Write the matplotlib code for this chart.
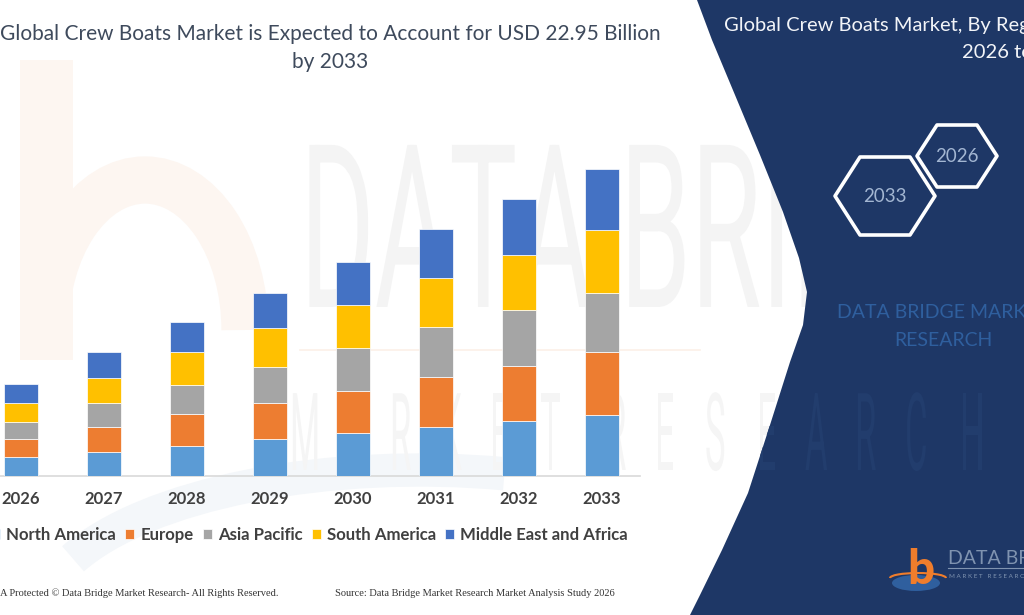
import matplotlib.pyplot as plt
import numpy as np
from matplotlib.patches import Polygon, Rectangle, Ellipse, PathPatch, Arc
from matplotlib.textpath import TextPath
from matplotlib.font_manager import FontProperties
from matplotlib.transforms import Affine2D

# values (USD billion)
years = ['2026', '2027', '2028', '2029', '2030', '2031', '2032', '2033']
north_america = [1.40, 1.82, 2.24, 2.79, 3.19, 3.64, 4.09, 4.59]
europe = [1.39, 1.83, 2.37, 2.69, 3.19, 3.79, 4.16, 4.64]
asia_pacific = [1.27, 1.80, 2.19, 2.69, 3.19, 3.67, 4.17, 4.47]
south_america = [1.42, 1.87, 2.45, 2.87, 3.24, 3.72, 4.09, 4.66]
middle_east_africa = [1.40, 1.92, 2.24, 2.64, 3.22, 3.61, 4.19, 4.59]

regions = ['North America', 'Europe', 'Asia Pacific', 'South America', 'Middle East and Africa']
series = [north_america, europe, asia_pacific, south_america, middle_east_africa]
colors = ['#5b9bd5', '#ed7d31', '#a5a5a5', '#ffc000', '#4472c4']

navy = '#1e3766'
W, H = 1024, 615

fig = plt.figure(figsize=(W / 100, H / 100), dpi=100)

# background layer in pixel coordinates (origin top-left)
bg = fig.add_axes([0, 0, 1, 1])
bg.set_xlim(0, W)
bg.set_ylim(H, 0)
bg.axis('off')
bg.set_zorder(0)

wm_font = FontProperties(family='Roboto', weight='normal')


def wm_text(s, x0, y0, em, sx, color, z, clip=None):
    tp = TextPath((0, 0), s, size=1, prop=wm_font)
    tr = Affine2D().scale(em * sx, -em).translate(x0, y0) + bg.transData
    p = PathPatch(tp, transform=tr, fc=color, ec='none', zorder=z)
    bg.add_patch(p)
    if clip is not None:
        p.set_clip_path(clip)
    return p


# faint watermark logo on the left
bg.add_patch(Rectangle((20, 60), 53, 300, fc='#fdf6f1', ec='none', zorder=1))
bg.add_patch(Arc((145, 330), 200, 300, theta1=180, theta2=360, lw=34,
                 color='#fdf6f1', zorder=1))
bg.add_patch(Arc((420, 620), 760, 300, theta1=190, theta2=300, lw=24,
                 color='#f4f7fa', zorder=1))
bg.plot([300, 700], [350, 350], color='#fcf0e8', lw=1.2, zorder=1)

# faint "DATA BRIDGE" watermark
wm_text('DATA BRIDGE', 300, 307, 228, 0.5, '#f4f4f4', 1)

# spaced "MARKET RESEARCH" letters
wm_letters = 'MARKETRESEARCH'
wm_x = [290, 340, 390, 440, 490, 540, 605, 655, 705, 757, 805, 855, 905, 960]
for ch, xx in zip(wm_letters, wm_x):
    wm_text(ch, xx, 470, 108, 0.32, '#f5f5f5', 1)

# right navy panel with curved left edge
edge = [(697, 0), (712, 40), (735, 95), (760, 155), (783, 212), (799, 258),
        (807, 292), (803, 325), (790, 362), (770, 425), (748, 493),
        (722, 550), (700, 595), (690, 615)]
panel = Polygon(edge + [(W, H), (W, 0)], closed=True, fc=navy, ec='none', zorder=2)
bg.add_patch(panel)

for ch, xx in zip(wm_letters, wm_x):
    wm_text(ch, xx, 470, 108, 0.32, '#223d6d', 3, clip=panel)

# panel title (cut at the right edge as in the picture)
bg.text(724, 25, 'Global Crew Boats Market, By Region,', fontsize=14.5, family='Lato',
        color='#f2f4f8', ha='left', va='center', zorder=5)
bg.text(962, 52, '2026 to 2033', fontsize=14.5, family='Lato',
        color='#f2f4f8', ha='left', va='center', zorder=5)


def hexagon(cx, cy, rx, ry):
    return [(cx + rx, cy), (cx + rx / 2, cy + ry), (cx - rx / 2, cy + ry),
            (cx - rx, cy), (cx - rx / 2, cy - ry), (cx + rx / 2, cy - ry)]


for (cx, cy, rx, ry, lab) in [(885, 196, 50, 39, '2033'), (957, 156, 40, 31, '2026')]:
    bg.add_patch(Polygon(hexagon(cx, cy, rx, ry), closed=True, fill=False,
                         ec='white', lw=2.6, joinstyle='round', zorder=5))
    bg.text(cx, cy, lab, fontsize=13.5, family='Lato', color='#a3b6d2',
            ha='center', va='center', zorder=5)

bg.text(943, 313, 'DATA BRIDGE MARKET', fontsize=14, family='Lato', color='#2f5f9e',
        ha='center', va='center', zorder=5)
bg.text(943, 341, 'RESEARCH', fontsize=14, family='Lato', color='#2f5f9e',
        ha='center', va='center', zorder=5)

# small logo bottom right
bg.add_patch(Ellipse((916, 583), 48, 16, fc='#2f5f9e', ec='none', zorder=5))
bg.text(921, 584, 'b', fontsize=34, family='Lato', weight='black', color='#ef7d2c',
        ha='center', va='baseline', zorder=6)
bg.add_patch(Arc((918, 578), 56, 10, theta1=180, theta2=360, lw=1.5,
                 color='#ef7d2c', zorder=7))
bg.text(948, 559, 'DATA BRIDGE', fontsize=14, family='Lato', color='#7f93b0',
        ha='left', va='center', zorder=5)
bg.plot([948, 1024], [568, 568], color='#7f93b0', lw=0.8, zorder=5)
bg.text(949, 576, 'M A R K E T   R E S E A R C H', fontsize=4.5, family='Lato',
        color='#7f93b0', ha='left', va='center', zorder=5)

# titles and footer
bg.text(330, 34, 'Global Crew Boats Market is Expected to Account for USD 22.95 Billion',
        fontsize=15, family='Lato', color='#3e4a5c', ha='center', va='center', zorder=5)
bg.text(330, 62, 'by 2033', fontsize=15, family='Lato', color='#3e4a5c',
        ha='center', va='center', zorder=5)
bg.text(0, 593, 'A Protected \u00a9 Data Bridge Market Research- All Rights Reserved.',
        fontsize=7.5, family='Liberation Serif', color='#333333', ha='left', va='center')
bg.text(335, 593, 'Source: Data Bridge Market Research Market Analysis Study 2026',
        fontsize=7.5, family='Liberation Serif', color='#333333', ha='left', va='center')

# stacked bar chart
base_px, step = 476, 83.0
ax = fig.add_axes([0, 1 - base_px / H, 640 / W, 376 / H])
ax.set_zorder(1)
ax.patch.set_alpha(0)

x = np.arange(len(years))
bottom = np.zeros(len(years))
for vals, name, c in zip(series, regions, colors):
    ax.bar(x, vals, bottom=bottom, width=34 / step, color=c, label=name,
           edgecolor='white', linewidth=0.5, zorder=3)
    bottom += np.array(vals)

ax.set_xlim(-21 / step, (640 - 21) / step)
ax.set_ylim(0, 28.1)
ax.set_xticks(x)
ax.set_xticklabels(years, fontsize=12, family='Lato', weight='bold', color='#404040')
ax.set_yticks([])
ax.tick_params(axis='x', length=0, pad=11)
for s in ['top', 'left', 'right']:
    ax.spines[s].set_visible(False)
ax.spines['bottom'].set_color('#d9d9d9')
ax.spines['bottom'].set_linewidth(1.2)

leg = ax.legend(loc='center left', bbox_to_anchor=(-9 / W, 1 - 535 / H),
                bbox_transform=fig.transFigure, ncol=5, frameon=False,
                handlelength=0.55, handleheight=0.55, handletextpad=0.35,
                columnspacing=0.55, borderpad=0, borderaxespad=0,
                prop={'family': 'Lato', 'weight': 'bold', 'size': 12.1})
for t in leg.get_texts():
    t.set_color('#404040')

fig.savefig('out.png', dpi=100)
